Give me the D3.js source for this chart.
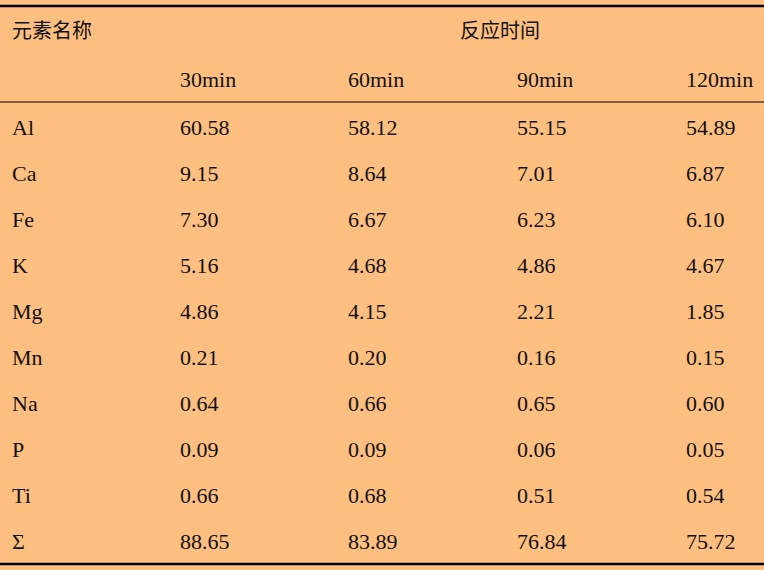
<!DOCTYPE html>
<html><head><meta charset="utf-8">
<script src="https://cdn.jsdelivr.net/npm/d3@7"></script>
<style>body{margin:0;background:#FFBF80}</style></head>
<body><svg id="c" width="764" height="570"></svg>
<script>
const columns = ["30min","60min","90min","120min"];
const elements = ["Al","Ca","Fe","K","Mg","Mn","Na","P","Ti","Σ"];
const v30 = ["60.58","9.15","7.30","5.16","4.86","0.21","0.64","0.09","0.66","88.65"];
const v60 = ["58.12","8.64","6.67","4.68","4.15","0.20","0.66","0.09","0.68","83.89"];
const v90 = ["55.15","7.01","6.23","4.86","2.21","0.16","0.65","0.06","0.51","76.84"];
const v120 = ["54.89","6.87","6.10","4.67","1.85","0.15","0.60","0.05","0.54","75.72"];
const series = [v30,v60,v90,v120];
const svg = d3.select("#c");
svg.append("rect").attr("width",764).attr("height",570).attr("fill","#FFBF80");
const x = d3.scaleOrdinal().domain(["name",...columns]).range([12,180,348,517,686]);
const y = d3.scaleLinear().domain([0,9]).range([127,541]);
const font = "'Liberation Serif','DejaVu Serif',serif";
const txt = (xx,yy,t,cjk)=>svg.append("text").attr("x",xx).attr("y",yy).attr("dy","0.35em")
  .attr("font-family",cjk?"'Noto Sans CJK SC',sans-serif":font).attr("font-size",cjk?20:22)
  .attr("fill","#111").attr("textLength",null).text(t);
txt(12,31,"元素名称",true);
txt(460,31,"反应时间",true);
columns.forEach(c=>txt(x(c),79,c));
elements.forEach((e,i)=>{
  txt(x("name"),y(i),e);
  series.forEach((s,j)=>txt(x(columns[j]),y(i),s[i]));
});
svg.append("line").attr("x1",0).attr("x2",764).attr("y1",6).attr("y2",6).attr("stroke","#000").attr("stroke-width",2.5);
svg.append("line").attr("x1",0).attr("x2",764).attr("y1",102).attr("y2",102).attr("stroke","#000").attr("stroke-width",1.2);
svg.append("line").attr("x1",0).attr("x2",764).attr("y1",564).attr("y2",564).attr("stroke","#000").attr("stroke-width",2.5);
</script></body></html>
